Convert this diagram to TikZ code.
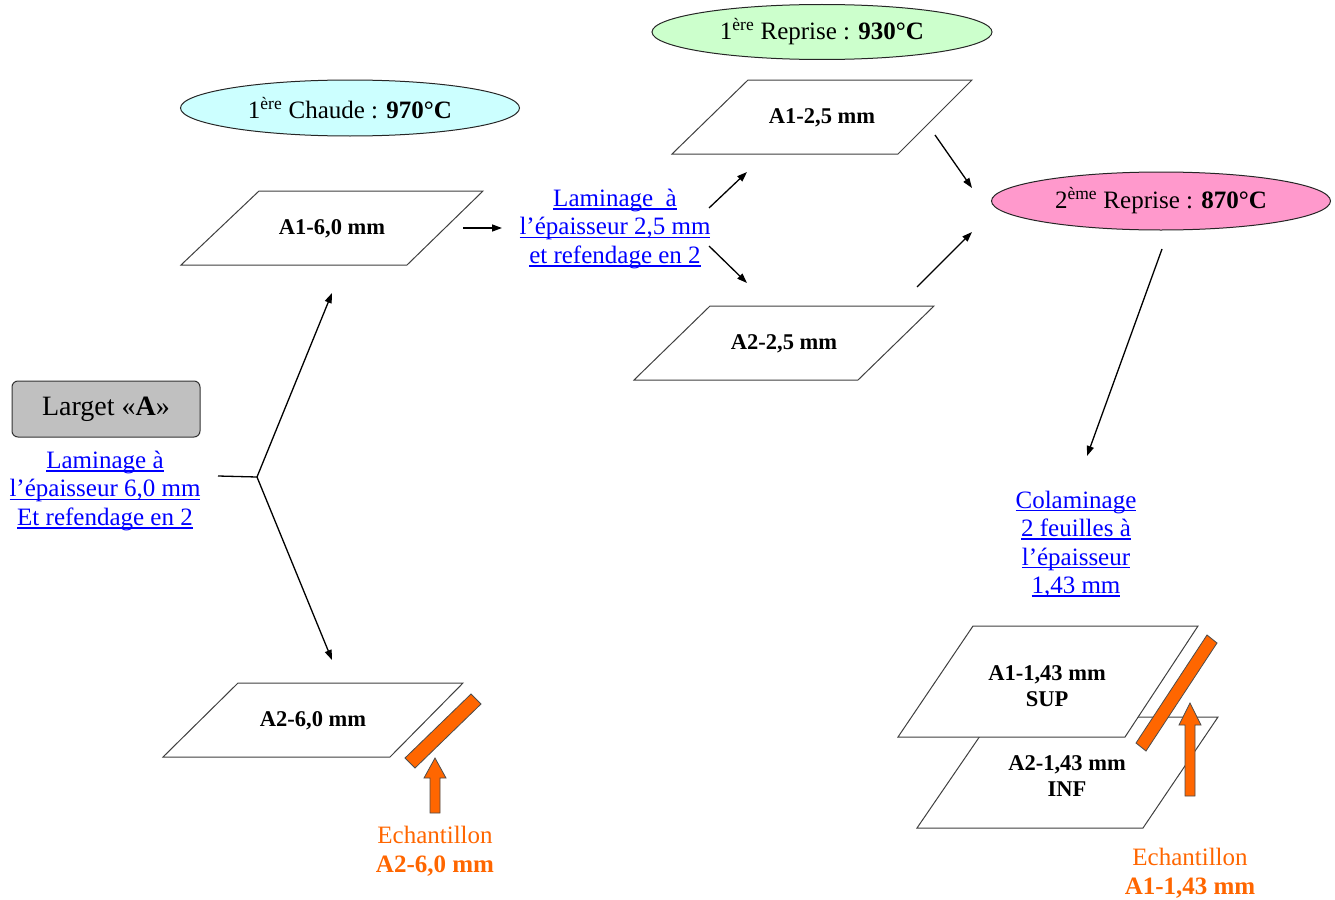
\documentclass[tikz,border=0pt]{standalone}
\usepackage{fontspec}
\setmainfont{Liberation Serif}
\usetikzlibrary{arrows.meta,shapes.geometric}
\definecolor{lnk}{HTML}{0000FF}
\definecolor{org}{HTML}{FF6600}
\definecolor{cyanf}{HTML}{CCFFFF}
\definecolor{greenf}{HTML}{CCFFCC}
\definecolor{pinkf}{HTML}{FF99CC}
\definecolor{greyf}{HTML}{C0C0C0}
\newcommand\myul[1]{\leavevmode\setbox0\hbox{#1}\rlap{\rule[-3.2pt]{\wd0}{1.3pt}}\box0}
\begin{document}
\begin{tikzpicture}[x=1pt,y=-1pt,
  ell/.style={ellipse, draw=black!85, line width=1pt, minimum width=339pt, minimum height=56pt, inner sep=0pt, font=\fontsize{25}{28}\selectfont},
  sheet/.style={draw=black!75, line width=1pt, fill=white},
  lbl/.style={font=\fontsize{22.5}{26}\selectfont\bfseries, align=center, inner sep=0pt},
  link/.style={text=lnk, font=\fontsize{25}{28.5}\selectfont, align=center, inner sep=0pt},
  otext/.style={text=org, font=\fontsize{25}{29}\selectfont, align=center, inner sep=0pt},
  conn/.style={line width=1.3pt, -{Triangle[length=10pt,width=7pt]}},
  plain/.style={line width=1.3pt},
  obar/.style={fill=org, draw=black!70, line width=0.8pt},
]
\useasboundingbox (0,0) rectangle (1335,899);

% ellipses
\node[ell, fill=cyanf] (chaude) at (350,108) {1\textsuperscript{ère} Chaude : \textbf{970°C}};
\node[ell, fill=greenf, minimum width=340pt, minimum height=55pt] (rep1) at (822,32) {1\textsuperscript{ère} Reprise : \textbf{930°C}};
\node[ell, fill=pinkf, minimum height=58pt] (rep2) at (1161,201) {2\textsuperscript{ème} Reprise : \textbf{870°C}};

% Larget box
\node[draw=black!80, line width=1pt, rounded corners=6pt, fill=greyf, minimum width=188pt, minimum height=56pt, inner sep=0pt, font=\fontsize{28}{30}\selectfont] (larget) at (106,409) {Larget «\textbf{A}»};

% blue texts
\node[link] (lamA) at (105,491) {\myul{Laminage à}\\\myul{l’épaisseur 6,0 mm}\\\myul{Et refendage en 2}};
\node[link] (lamB) at (615,229) {\myul{Laminage\ \ à}\\\myul{l’épaisseur 2,5 mm}\\\myul{et refendage en 2}};
\node[link] (colam) at (1076,544) {\myul{Colaminage}\\\myul{2 feuilles à}\\\myul{l’épaisseur}\\\myul{1,43 mm}};

% sheets
\draw[sheet] (259,191) -- (483,191) -- (407,265) -- (181,265) -- cycle;
\node[lbl] (a16) at (332,229) {A1-6,0 mm};
\draw[sheet] (748,80) -- (972,80) -- (898,154) -- (672,154) -- cycle;
\node[lbl] (a125) at (822,118) {A1-2,5 mm};
\draw[sheet] (710,306) -- (934,306) -- (858,380) -- (634,380) -- cycle;
\node[lbl] (a225) at (784,344) {A2-2,5 mm};
\draw[sheet] (238,683) -- (463,683) -- (390,757) -- (163,757) -- cycle;
\node[lbl] (a26) at (313,721) {A2-6,0 mm};
\draw[sheet] (993,717) -- (1218,717) -- (1143,828) -- (917,828) -- cycle;
\node[lbl] (a2143) at (1067,776) {A2-1,43 mm\\INF};
\draw[sheet] (973,626) -- (1198,626) -- (1125,737) -- (898,737) -- cycle;
\node[lbl] (a1143) at (1047,686) {A1-1,43 mm\\SUP};

% samples
\draw[obar] (481,704) -- (471,694) -- (405,758) -- (415,768) -- cycle;
\draw[obar] (430,813) -- (430,778) -- (424,778) -- (435,758) -- (446,778) -- (440,778) -- (440,813) -- cycle;
\node[otext] (ech1) at (435,851) {Echantillon\\\textbf{A2-6,0 mm}};
\draw[obar] (1217,643) -- (1207,635) -- (1136,743) -- (1146,751) -- cycle;
\draw[obar] (1185,796) -- (1185,725) -- (1179,725) -- (1190,703) -- (1201,725) -- (1195,725) -- (1195,796) -- cycle;
\node[otext] (ech2) at (1190,873) {Echantillon\\\textbf{A1-1,43 mm}};

% connector coordinates
\coordinate (s0) at (218,476);
\coordinate (fork) at (257,477);
\coordinate (t1) at (332,293);
\coordinate (t2) at (332,660);
\coordinate (b0) at (463,228);
\coordinate (b1) at (502,228);
\coordinate (c0) at (709,208);
\coordinate (c1) at (747,172);
\coordinate (d0) at (709,246);
\coordinate (d1) at (747,283);
\coordinate (e0) at (935,135);
\coordinate (e1) at (972,188);
\coordinate (f0) at (917,287);
\coordinate (f1) at (972,232);
\coordinate (g0) at (1162,249);
\coordinate (g1) at (1087,456);

\draw[plain] (s0) -- (fork);
\draw[conn] (fork) -- (t1);
\draw[conn] (fork) -- (t2);
\draw[conn] (b0) -- (b1);
\draw[conn] (c0) -- (c1);
\draw[conn] (d0) -- (d1);
\draw[conn] (e0) -- (e1);
\draw[conn] (f0) -- (f1);
\draw[conn] (g0) -- (g1);
\end{tikzpicture}
\end{document}
